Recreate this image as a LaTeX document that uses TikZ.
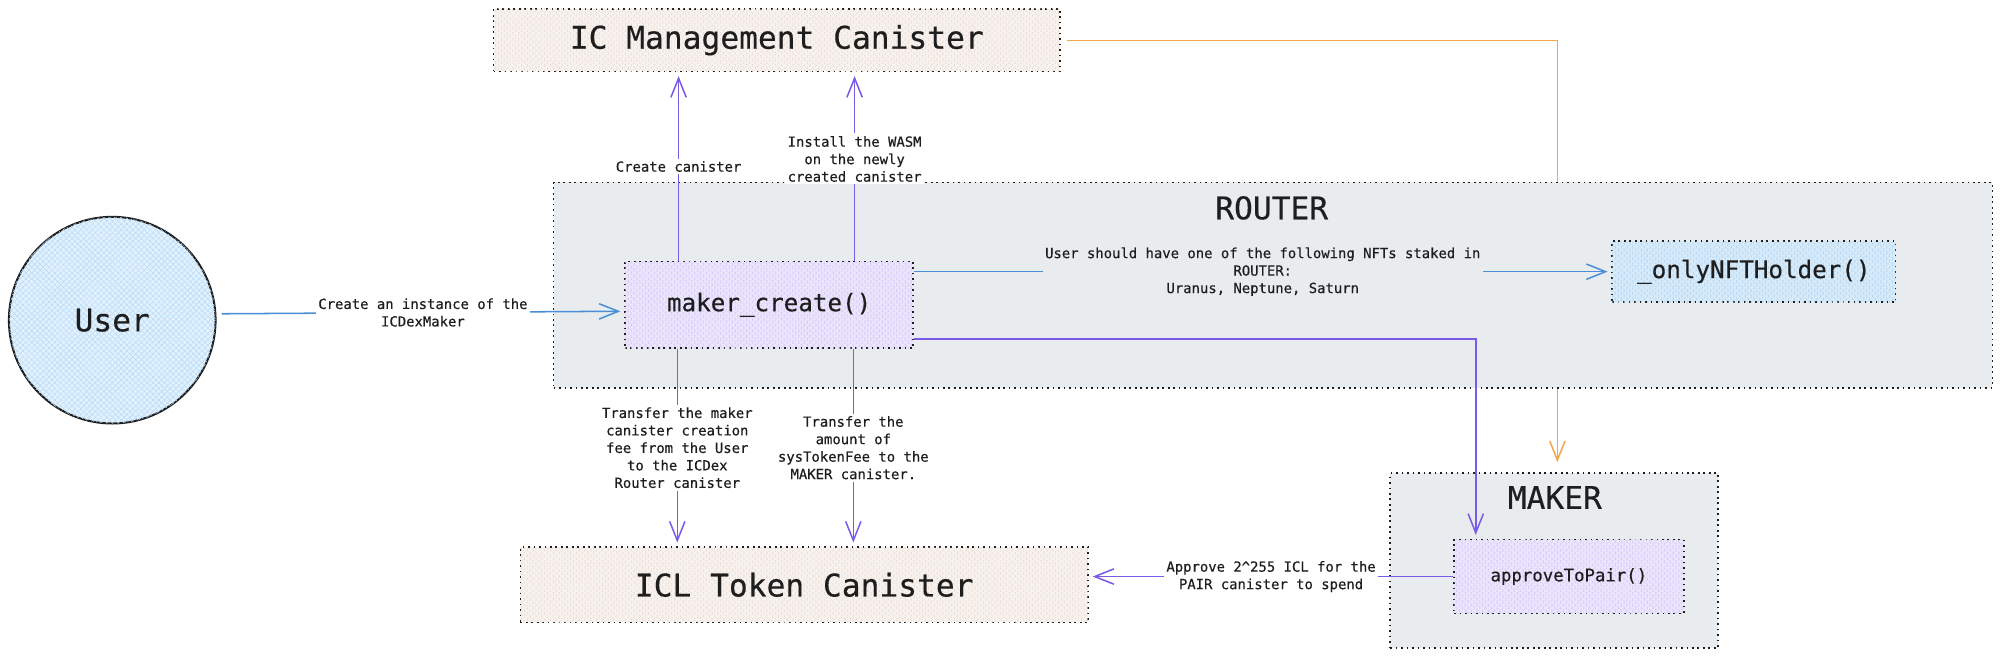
\documentclass[tikz,border=0pt]{standalone}
\usepackage{fontspec}
\setmainfont[FakeBold=0.4]{DejaVu Sans Mono}
\usetikzlibrary{arrows.meta,patterns.meta,backgrounds}
\definecolor{ink}{HTML}{1E1E1E}
\definecolor{routerF}{HTML}{E9ECEF}
\definecolor{beigeF}{HTML}{F8F2EE}
\definecolor{beigeP}{HTML}{E6D6CC}
\definecolor{lavF}{HTML}{EAE4FC}
\definecolor{lavP}{HTML}{CDBFF6}
\definecolor{blueF}{HTML}{D6EAF9}
\definecolor{blueP}{HTML}{A6D0F1}
\definecolor{userF}{HTML}{E2F1FD}
\definecolor{userP}{HTML}{B3DAF7}
\definecolor{purp}{HTML}{7A5AE8}
\definecolor{bluec}{HTML}{4A8FD6}
\definecolor{orangec}{HTML}{F4A64C}
\begin{document}
\begin{tikzpicture}[x=1pt,y=-1pt,
  box/.style={draw=ink, line width=1.3pt, dash pattern=on 1.3pt off 3pt, rectangle, inner sep=0pt, text=ink},
  hatched/.style n args={2}{fill=#1,
    postaction={pattern={Lines[angle=45,distance=3.2pt,line width=0.35pt]}, pattern color=#2},
    postaction={pattern={Lines[angle=-45,distance=3.2pt,line width=0.35pt]}, pattern color=#2}},
  title/.style={font=\fontsize{24.5}{29}\selectfont, text=ink},
  func/.style={font=\fontsize{19}{23}\selectfont},
  small/.style={font=\fontsize{13.6}{16}\selectfont},
  lbl/.style={font=\fontsize{10.9}{13.7}\selectfont, align=center, fill=white, inner sep=2pt, text=ink},
  conn/.style={line width=1.2pt, -{Straight Barb[length=15pt,width=12pt,line width=1.2pt]}, shorten >=3pt},
]
\useasboundingbox (0,0) rectangle (1568,515);

% nodes
\node[box, hatched={beigeF}{beigeP}, minimum width=444pt, minimum height=49pt, title] (icm) at (609,31.5) {IC Management Canister};
\node[box, fill=routerF, minimum width=1128pt, minimum height=161pt] (router) at (998,223.5) {};
\node[title] (routert) at (997,163) {ROUTER};
\node[box, hatched={lavF}{lavP}, minimum width=226pt, minimum height=68pt, func] (mc) at (603,239) {maker\_create()};
\node[box, hatched={blueF}{blueP}, minimum width=222pt, minimum height=48pt, func] (nft) at (1375,213) {\_onlyNFTHolder()};
\node[box, fill=routerF, minimum width=257pt, minimum height=137pt] (maker) at (1218.5,439.5) {};
\node[title] (makert) at (1219,390) {MAKER};
\node[box, hatched={lavF}{lavP}, minimum width=180pt, minimum height=58pt, small] (atp) at (1230,452) {approveToPair()};
\node[box, hatched={beigeF}{beigeP}, minimum width=445pt, minimum height=59pt, title] (icl) at (630.5,458.5) {ICL Token Canister};
\node[circle, draw=ink, line width=1.6pt, hatched={userF}{userP}, minimum size=162pt, inner sep=0pt, title] (user) at (88,251) {User};

% helper coordinates
\coordinate (c1) at ([xshift=-71pt]mc.north);
\coordinate (c2) at ([xshift=67pt]mc.north);
\coordinate (c3) at ([xshift=-72pt]mc.south);
\coordinate (c4) at ([xshift=66pt]mc.south);
\coordinate (c5) at ([yshift=8pt]mc.south east);
\coordinate (c6) at ([xshift=-73pt]atp.north);
\coordinate (c7) at ([xshift=5pt]icm.east);
\coordinate (c8) at ([xshift=2.5pt]maker.north);
\coordinate (u1) at ([xshift=4pt,yshift=5pt]user.east);
\coordinate (u2) at ([yshift=-5pt]mc.west);

% orange connector behind the router
\begin{pgfonlayer}{background}
\draw[conn, orangec, line width=1pt, shorten >=8pt] (c7) -| (c8);
\end{pgfonlayer}

% connectors
\draw[conn, bluec] (u1) -- node[lbl] {Create an instance of the\\ICDexMaker} (u2);
\draw[conn, bluec] (mc.north east |- nft.west) -- node[lbl, fill=routerF] {User should have one of the following NFTs staked in\\ROUTER:\\Uranus, Neptune, Saturn} (nft.west);
\draw[conn, purp] (c5) -| (c6);
\draw[conn, purp] (c1) -- node[lbl] {Create canister} (c1 |- icm.south);
\draw[conn, purp] (c2) -- node[lbl, pos=0.54] {Install the WASM\\on the newly\\created canister} (c2 |- icm.south);
\draw[conn, purp] (c3) -- node[lbl] {Transfer the maker\\canister creation\\fee from the User\\to the ICDex\\Router canister} (c3 |- icl.north);
\draw[conn, purp] (c4) -- node[lbl] {Transfer the\\amount of\\sysTokenFee to the\\MAKER canister.} (c4 |- icl.north);
\draw[conn, purp] (atp.west) -- node[lbl] {Approve 2\textasciicircum{}255 ICL for the\\PAIR canister to spend} (icl.east |- atp.west);
\end{tikzpicture}
\end{document}
